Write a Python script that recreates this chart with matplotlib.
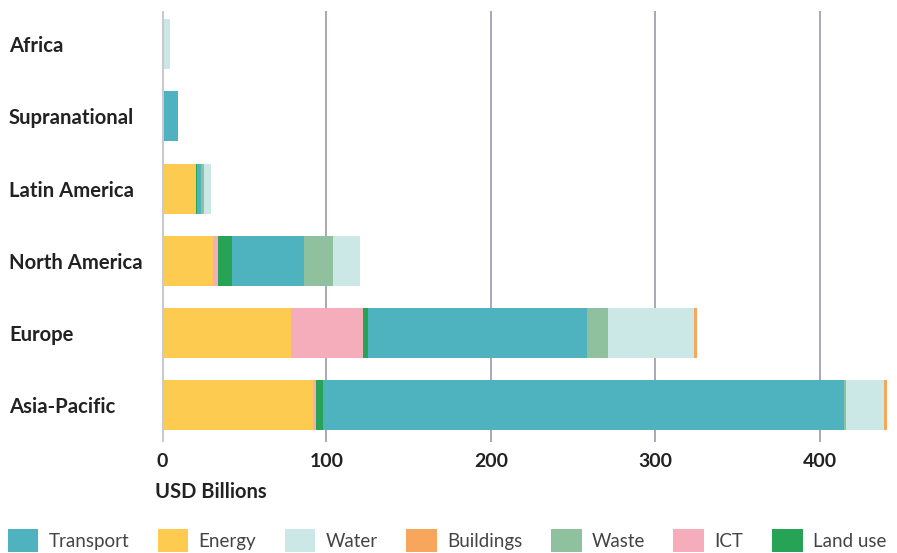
import matplotlib
matplotlib.use("Agg")
import matplotlib.pyplot as plt
import numpy as np

regions = ["Africa", "Supranational", "Latin America", "North America", "Europe", "Asia-Pacific"]
# stacking order (left to right)
sectors = ["Energy", "ICT", "Land use", "Transport", "Waste", "Water", "Buildings"]
energy    = [0,   0,  20.7, 31.0, 78.4,  92.0]
ict       = [0,   0,  0,    3.0,  43.8,  1.6]
land_use  = [0,   0,  0.8,  8.5,  3.0,   4.3]
transport = [0,  10.0, 2.3, 43.8, 133.0, 316.7]
waste     = [0,   0,  1.8,  17.6, 12.8,  1.2]
water     = [5.0, 0,  4.3,  16.4, 52.3,  23.0]
buildings = [0,   0,  0,    0,    1.8,   1.8]
values = {"Energy": energy, "ICT": ict, "Land use": land_use, "Transport": transport,
          "Waste": waste, "Water": water, "Buildings": buildings}
colors = {"Transport": "#4FB3BF", "Energy": "#FDCB4F", "Water": "#CBE8E6",
          "Buildings": "#F8A65C", "Waste": "#8FC19F", "ICT": "#F5ADBC", "Land use": "#27A356"}
legend_order = ["Transport", "Energy", "Water", "Buildings", "Waste", "ICT", "Land use"]
xticks = [0, 100, 200, 300, 400]

plt.rcParams['font.family'] = ['Lato', 'DejaVu Sans']

fig = plt.figure(figsize=(8.97, 5.53), dpi=100)
ax = fig.add_axes([162/897, 1-442/553, (889-162)/897, (442-11)/553])

y = np.arange(len(regions))
left = np.zeros(len(regions))
handles = {}
for s in sectors:
    v = np.array(values[s])
    h = ax.barh(y, v, left=left, height=0.69, color=colors[s], linewidth=0, zorder=3, label=s)
    handles[s] = h
    left += v

ax.set_xlim(0, 442)
ax.set_ylim(5.51, -0.46)
ax.set_yticks(y)
ax.set_yticklabels(regions, fontsize=14.6, fontweight='bold', color='#222222', ha='left')
ax.tick_params(axis='y', length=0, pad=153 * 72 / 100)
ax.set_xticks(xticks)
ax.set_xticklabels([str(t) for t in xticks], fontsize=14, fontweight='bold', color='#222222')
ax.tick_params(axis='x', length=0, pad=8)
for sp in ax.spines.values():
    sp.set_visible(False)
for t in xticks[1:]:
    ax.axvline(t, color='#A29FB2', linewidth=1.3, zorder=1)
ax.axvline(0, color='#C9C8D2', linewidth=2.2, zorder=4)

fig.text(155/897, 1-492/553, "USD Billions", fontsize=14.5, fontweight='bold',
         color='#222222', ha='left', va='center')

leg = fig.legend([handles[s] for s in legend_order], legend_order, loc='lower left',
                 bbox_to_anchor=(0.0, -0.012), ncol=7, frameon=False,
                 fontsize=13.5, handlelength=1.65, handleheight=1.5, handletextpad=0.55,
                 columnspacing=1.5, borderaxespad=0.2, borderpad=0.2)
for t in leg.get_texts():
    t.set_color('#444444')
    t.set_fontweight('normal')

fig.savefig("out.png", dpi=100)
